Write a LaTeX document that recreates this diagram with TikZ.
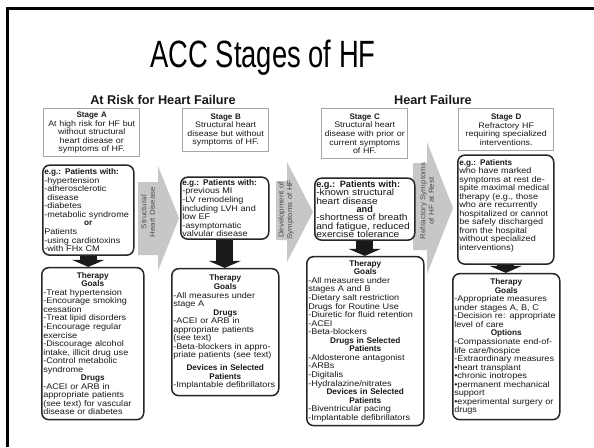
\documentclass[tikz,border=0pt]{standalone}
\usepackage{fontspec}
\setmainfont{Liberation Sans}
\newfontfamily\boxfont[UprightFeatures={FakeStretch=1.11}]{Liberation Sans}
\newfontfamily\titlefont[FakeStretch=0.72]{Liberation Sans}
\usetikzlibrary{positioning, arrows.meta}

\newcommand{\casesetup}{\parindent=0pt\parskip=0pt\lineskiplimit=-4pt}
\newcommand{\boxhead}[1]{{\centering\bfseries #1\par}}

\begin{document}
\begin{tikzpicture}[
    x=1pt, y=-1pt,
    stagebox/.style={rectangle, draw=black!35, line width=1.4pt, fill=white,
        inner xsep=1pt, inner ysep=2pt, align=center, anchor=north west, text=black!90,
        font=\boxfont\fontsize{8}{8.55}\selectfont\casesetup},
    casebox/.style={rectangle, rounded corners=7pt, draw=black!85, line width=1.5pt,
        fill=white, inner xsep=1.5pt, inner ysep=1.5pt, align=left, text=black!90,
        font=\boxfont\fontsize{8.2}{8.55}\selectfont\casesetup},
    downarrow/.style={draw=black!90, line width=17pt, -{Triangle[length=7pt, width=32pt]}},
    grayarrow/.style={fill=black!22},
    arrowlabel/.style={rotate=90, align=center, inner sep=0pt, text=black!70,
        font=\boxfont\fontsize{7.2}{8.5}\selectfont},
    heading/.style={anchor=base, text=black!90, font=\boxfont\bfseries\fontsize{12.7}{14}\selectfont}
]
    \useasboundingbox (0,0) rectangle (594,447);
    \fill[white] (0,0) rectangle (594,447);
    \draw[line width=3pt] (7.5,447) |- (594,8.5);

    \node[anchor=base, font=\titlefont\fontsize{38}{40}\selectfont] (title) at (263,67) {ACC Stages of HF};

    \node[heading] (atrisk) at (163,104) {At Risk for Heart Failure};
    \node[heading] (heartfailure) at (433,104) {Heart Failure};

    % gray arrows between the stages
    \fill[grayarrow] (138,182) -- (158,182) -- (158,166) -- (179,218) -- (158,271) -- (158,255) -- (138,255) -- cycle;
    \fill[grayarrow] (276,181) -- (287,181) -- (287,162) -- (313,212) -- (287,262) -- (287,240) -- (276,240) -- cycle;
    \fill[grayarrow] (413,163) -- (427,163) -- (427,142) -- (453,208) -- (427,274) -- (427,250) -- (413,250) -- cycle;

    \node[arrowlabel] (structural) at (148,212) {Structural\\Heart Disease};
    \node[arrowlabel] (development) at (286,210) {Development of\\Symptoms of HF};
    \node[arrowlabel] (refractory) at (427,201) {Refractory Symptoms\\of HF at Rest};

    % stages
    \node[stagebox, minimum width=96pt, minimum height=48pt, text width=94pt] (stagea) at (43,108)
        {\textbf{Stage A}\\At high risk for HF but\\without structural\\heart disease or\\symptoms of HF.};
    \node[stagebox, minimum width=86pt, minimum height=43pt, text width=84pt] (stageb) at (182,108)
        {\textbf{Stage B}\\Structural heart\\disease but without\\symptoms of HF.};
    \node[stagebox, minimum width=86pt, minimum height=50pt, text width=84pt] (stagec) at (321,108)
        {\textbf{Stage C}\\Structural heart\\disease with prior or\\current symptoms\\of HF.};
    \node[stagebox, minimum width=95pt, minimum height=42pt, text width=93pt] (staged) at (458,108)
        {\textbf{Stage D}\\Refractory HF\\requiring specialized\\interventions.};

    % patients
    \node[casebox, below=7pt of stagea.south west, anchor=north west, xshift=-1pt,
        minimum width=91pt, minimum height=90pt, text width=88pt] (patientsa)
        {\textbf{e.g.: Patients with:}\\-hypertension\\-atherosclerotic\\\hspace*{3pt}disease\\-diabetes\\-metabolic syndrome\par\boxhead{or}Patients\\-using cardiotoxins\\-with FHx CM};
    \node[casebox, below=24pt of stageb.south west, anchor=north west, xshift=-2pt,
        minimum width=88pt, minimum height=62pt, text width=85pt] (patientsb)
        {\textbf{e.g.: Patients with:}\\-previous MI\\-LV remodeling\\including LVH and\\low EF\\-asymptomatic\\valvular disease};
    \node[casebox, below=18pt of stagec.south west, anchor=north west, xshift=-7pt,
        minimum width=100pt, minimum height=62pt, text width=97pt,
        font=\boxfont\fontsize{9.2}{8.4}\selectfont\casesetup] (patientsc)
        {\textbf{e.g.: Patients with:}\\-known structural\\heart disease\par\boxhead{and}-shortness of breath\\and fatigue, reduced\\exercise tolerance};
    \node[casebox, below=3pt of staged.south west, anchor=north west, xshift=-1pt,
        minimum width=96pt, minimum height=109pt, text width=93pt] (patientsd)
        {\textbf{e.g.: Patients}\\who have marked\\symptoms at rest de-\\spite maximal medical\\therapy (e.g., those\\who are recurrently\\hospitalized or cannot\\be safely discharged\\from the hospital\\without specialized\\interventions)\par\kern8pt};

    % therapy
    \node[casebox, below=11pt of patientsa.south west, anchor=north west, xshift=-1pt,
        minimum width=102pt, minimum height=152pt, text width=99pt] (therapya)
        {\boxhead{Therapy\\Goals}-Treat hypertension\\-Encourage smoking\\cessation\\-Treat lipid disorders\\-Encourage regular\\exercise\\-Discourage alcohol\\intake, illicit drug use\\-Control metabolic\\syndrome\par\boxhead{Drugs}-ACEI or ARB in\\appropriate patients\\(see text) for vascular\\disease or diabetes};
    \node[casebox, below=28pt of patientsb.south west, anchor=north west, xshift=-9pt,
        minimum width=107pt, minimum height=127pt, text width=104pt] (therapyb)
        {\boxhead{Therapy\\Goals}-All measures under\\stage A\par\boxhead{Drugs}-ACEI or ARB in\\appropriate patients\\(see text)\\-Beta-blockers in appro-\\priate patients (see text)\par\vspace{4pt}\boxhead{Devices in Selected\\Patients}-Implantable defibrillators};
    \node[casebox, below=15pt of patientsc.south west, anchor=north west, xshift=-8pt,
        minimum width=117pt, minimum height=169pt, text width=114pt] (therapyc)
        {\boxhead{Therapy\\Goals}-All measures under\\stages A and B\\-Dietary salt restriction\\Drugs for Routine Use\\-Diuretic for fluid retention\\-ACEI\\-Beta-blockers\par\boxhead{Drugs in Selected\\Patients}-Aldosterone antagonist\\-ARBs\\-Digitalis\\-Hydralazine/nitrates\par\boxhead{Devices in Selected\\Patients}-Biventricular pacing\\-Implantable defibrillators};
    \node[casebox, below=8pt of patientsd.south west, anchor=north west, xshift=-5pt,
        minimum width=107pt, minimum height=146pt, text width=104pt] (therapyd)
        {\boxhead{Therapy\\Goals}-Appropriate measures\\under stages A, B, C\\-Decision re: appropriate\\level of care\par\boxhead{Options}-Compassionate end-of-\\life care/hospice\\-Extraordinary measures\\•heart transplant\\•chronic inotropes\\•permanent mechanical\\support\\•experimental surgery or\\drugs};

    \draw[downarrow] (patientsa.south) -- (patientsa.south |- therapya.north);
    \draw[downarrow] (patientsb.south) -- (patientsb.south |- therapyb.north);
    \draw[downarrow] (patientsc.south) -- (patientsc.south |- therapyc.north);
    \draw[downarrow] (patientsd.south) -- (patientsd.south |- therapyd.north);

\end{tikzpicture}
\end{document}
